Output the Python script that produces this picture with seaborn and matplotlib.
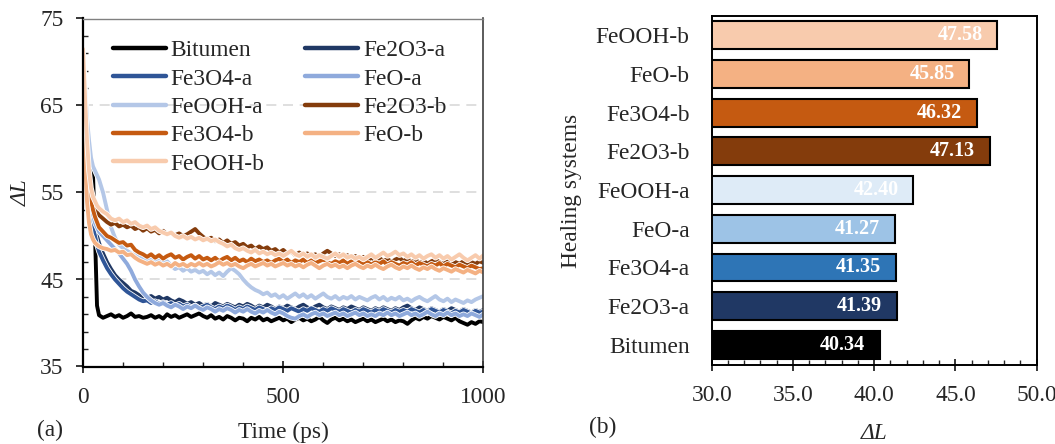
import numpy as np
import pandas as pd
import matplotlib
matplotlib.use("Agg")
import matplotlib.pyplot as plt
import matplotlib.patheffects as pe
from matplotlib.lines import Line2D
from matplotlib.ticker import FixedLocator, MultipleLocator
import seaborn as sns

# ---------------- data ----------------
SERIES = ["Bitumen", "Fe2O3-a", "Fe3O4-a", "FeO-a", "FeOOH-a",
          "Fe2O3-b", "Fe3O4-b", "FeO-b", "FeOOH-b"]
LINE_COLORS = ["#000000", "#203864", "#2F5597", "#8FAADC", "#B4C7E7",
               "#843C0C", "#C55A11", "#F4B183", "#F8CBAD"]

TIME_EARLY = [0, 5, 10, 15, 20, 25, 30, 35]
TIME_MAIN = list(range(40, 1001, 10))

bitumen = [65, 61, 59, 58.5, 58, 57, 50, 42,
    40.9, 40.6, 40.8, 41.0, 40.7, 40.9, 40.6, 40.8, 41.1, 40.7, 40.8, 40.6, 40.7, 40.9, 40.6, 40.8, 40.5,
    41.0, 40.7, 40.9, 40.6, 40.8, 41.0, 40.7, 40.9, 41.1, 40.8, 40.6, 40.9, 40.5, 40.7, 40.4, 40.8, 40.6,
    40.3, 40.6, 40.5, 40.2, 40.6, 40.4, 40.7, 40.3, 40.5, 40.2, 40.4, 40.6, 40.3, 40.5, 40.1, 40.4, 40.6,
    40.3, 40.5, 40.2, 40.4, 40.7, 40.3, 40.0, 40.4, 40.6, 40.3, 40.5, 40.2, 40.4, 40.1, 40.3, 40.5, 40.2,
    40.4, 40.1, 40.3, 40.5, 40.2, 40.4, 40.1, 40.3, 40.2, 39.9, 40.3, 40.6, 40.4, 40.7, 40.5, 40.8, 40.6,
    40.4, 40.7, 40.5, 40.3, 40.6, 40.2, 40.0, 39.8, 40.1, 39.9, 40.2, 40.1]
fe2o3_a = [66, 61, 57, 55, 53.5, 52, 51, 50,
    49.2, 48.0, 47.0, 46.2, 45.5, 45.0, 44.6, 44.2, 43.7, 43.5, 43.2, 43.0, 42.9, 43.1, 42.8, 43.0, 42.7,
    42.9, 42.6, 42.4, 42.7, 42.5, 42.2, 42.4, 42.1, 42.3, 42.0, 42.2, 41.9, 42.3, 42.1, 41.9, 42.2, 42.0,
    41.8, 42.1, 41.9, 42.2, 42.0, 41.7, 42.0, 41.8, 42.1, 41.9, 41.6, 41.9, 41.7, 42.0, 41.8, 41.6, 41.9,
    42.1, 41.8, 41.6, 41.9, 42.1, 41.8, 41.6, 41.9, 41.7, 41.5, 41.8, 41.6, 41.9, 41.7, 41.5, 41.8, 41.6,
    41.4, 41.7, 41.5, 41.8, 41.6, 41.4, 41.7, 41.5, 41.8, 42.0, 41.7, 41.5, 41.8, 41.6, 41.4, 41.7, 41.5,
    41.3, 41.6, 41.4, 41.7, 41.5, 41.3, 41.6, 41.4, 41.2, 41.5, 41.3, 41.5]
fe3o4_a = [67, 61, 56, 53.5, 52, 51, 50, 49,
    48.2, 47.2, 46.3, 45.6, 45.0, 44.5, 44.0, 43.6, 43.3, 43.0, 42.7, 42.5, 42.6, 42.3, 42.5, 42.2, 42.4,
    42.1, 42.3, 42.0, 42.2, 41.9, 42.1, 41.8, 42.0, 41.7, 41.9, 42.1, 41.8, 41.6, 41.9, 41.7, 42.0, 41.8,
    41.5, 41.8, 41.6, 41.9, 41.7, 41.5, 41.8, 41.6, 41.4, 41.7, 41.5, 41.8, 41.6, 41.4, 41.7, 41.5, 41.3,
    41.6, 41.4, 41.7, 41.5, 41.3, 41.6, 41.4, 41.7, 41.5, 41.3, 41.6, 41.4, 41.2, 41.5, 41.3, 41.6, 41.4,
    41.2, 41.5, 41.3, 41.6, 41.4, 41.2, 41.5, 41.3, 41.5, 41.3, 41.6, 41.4, 41.2, 41.5, 41.3, 41.6, 41.4,
    41.2, 41.5, 41.3, 41.1, 41.4, 41.2, 41.5, 41.3, 41.1, 41.4, 41.2, 41.3]
feo_a = [68, 63, 58, 55, 53.5, 52.5, 51.5, 51,
    50.5, 50.0, 49.5, 49.0, 48.5, 48.0, 47.4, 46.8, 46.0, 45.0, 44.2, 43.5, 43.0, 42.6, 42.3, 42.1, 42.3,
    42.0, 41.8, 42.1, 41.9, 41.6, 41.9, 41.7, 42.0, 41.7, 41.5, 41.8, 41.6, 41.3, 41.6, 41.4, 41.7, 41.5,
    41.2, 41.5, 41.3, 41.6, 41.3, 41.1, 41.4, 41.2, 41.5, 41.2, 41.0, 41.3, 41.1, 40.8, 40.6, 40.5, 40.8,
    41.0, 40.7, 41.0, 41.2, 40.9, 41.1, 40.8, 41.0, 41.2, 40.9, 41.1, 40.8, 41.0, 41.2, 40.9, 41.1, 40.8,
    41.0, 40.8, 41.1, 40.9, 41.2, 40.9, 41.1, 40.8, 41.0, 41.2, 40.9, 41.1, 40.8, 41.0, 41.3, 41.0, 40.8,
    41.1, 40.9, 41.2, 40.9, 41.1, 40.8, 41.0, 40.8, 41.1, 40.9, 40.7, 41.0]
feooh_a = [71, 67, 63.5, 61, 59, 58, 57.5, 57,
    56.5, 55.0, 53.0, 51.0, 49.8, 49.0, 48.6, 48.3, 48.0, 47.8, 47.5, 47.6, 47.2, 47.4, 47.0, 47.2, 46.9,
    47.1, 46.6, 46.2, 46.4, 46.0, 46.3, 45.9, 46.1, 45.8, 46.0, 45.6, 45.9, 45.5, 45.8, 45.4, 45.9, 46.3,
    46.0, 45.6, 45.0, 44.5, 44.1, 43.8, 43.6, 43.3, 43.5, 43.1, 43.3, 42.9, 43.2, 42.8, 43.1, 43.4, 43.0,
    43.3, 42.9, 43.2, 42.8, 43.1, 43.4, 43.0, 42.8, 43.1, 42.7, 43.0, 42.8, 43.1, 42.7, 43.0, 42.8, 42.6,
    42.9, 43.1, 42.7, 43.0, 42.6, 42.9, 42.7, 43.0, 42.6, 42.8, 42.5, 42.8, 43.0, 42.7, 42.5, 42.8, 43.1,
    42.7, 42.5, 42.8, 42.4, 42.7, 42.5, 42.3, 42.6, 42.4, 42.7, 42.9, 43.1]
fe2o3_b = [66, 61, 58, 56, 55, 54, 53.3, 52.8,
    52.4, 52.0, 51.6, 51.3, 51.5, 51.1, 51.3, 51.0, 51.2, 50.8, 51.0, 50.6, 50.9, 50.5, 50.7, 50.3, 50.6,
    50.2, 50.4, 50.1, 50.3, 50.0, 50.2, 50.5, 50.8, 50.3, 49.9, 49.6, 49.8, 49.4, 49.6, 49.2, 49.5, 49.1,
    49.3, 48.9, 49.1, 48.7, 48.9, 48.5, 48.8, 48.5, 48.7, 48.3, 48.5, 48.1, 48.4, 48.0, 48.2, 47.8, 48.1,
    47.8, 48.0, 47.7, 47.9, 47.6, 48.0, 48.3, 48.0, 47.7, 47.9, 47.5, 47.8, 47.4, 47.7, 47.3, 47.6, 47.2,
    47.5, 47.2, 47.5, 47.1, 47.4, 47.0, 47.3, 47.5, 47.1, 47.4, 47.0, 47.3, 46.9, 47.2, 46.8, 47.1, 47.3,
    47.0, 46.8, 47.1, 46.7, 47.0, 46.8, 47.1, 46.7, 47.0, 46.8, 47.1, 46.9]
fe3o4_b = [67, 62, 58, 55.5, 54, 53, 52.2, 51.6,
    51.0, 50.5, 50.0, 49.8, 49.5, 49.2, 49.3, 48.9, 49.0, 48.4, 48.1, 47.9, 47.6, 47.9, 47.5, 47.8, 47.4,
    47.7, 47.9, 47.5, 47.7, 47.3, 47.6, 47.8, 47.4, 47.7, 47.3, 47.5, 47.2, 47.5, 47.1, 47.4, 47.6, 47.2,
    47.5, 47.1, 47.3, 47.0, 47.4, 47.1, 47.3, 47.0, 47.2, 46.9, 47.2, 47.4, 47.0, 47.3, 46.9, 47.2, 47.0,
    47.3, 46.9, 47.2, 46.9, 47.1, 47.3, 47.0, 46.8, 47.1, 46.9, 47.2, 46.8, 47.1, 46.9, 47.2, 46.8, 47.0,
    46.7, 47.0, 46.8, 47.1, 46.7, 47.0, 46.8, 46.6, 46.9, 46.7, 47.0, 46.6, 46.9, 46.7, 46.5, 46.8, 46.6,
    46.9, 46.5, 46.8, 46.6, 46.4, 46.7, 46.5, 46.3, 46.6, 46.4, 46.2, 46.3]
feo_b = [66, 59, 54, 51.5, 50.2, 49.6, 49.2, 49.0,
    48.8, 48.6, 48.5, 48.3, 48.4, 48.1, 48.2, 47.8, 47.9, 47.5, 47.2, 47.0, 46.8, 47.0, 46.7, 46.9, 46.6,
    46.8, 46.5, 46.9, 46.6, 46.8, 46.5, 46.8, 46.6, 46.9, 46.6, 46.8, 46.5, 46.7, 47.0, 46.7, 46.9, 46.6,
    46.8, 46.5, 46.3, 46.6, 46.8, 46.5, 46.7, 46.9, 46.6, 46.8, 46.5, 46.7, 46.9, 46.6, 46.8, 46.5, 46.7,
    46.4, 46.7, 46.9, 46.6, 46.3, 46.6, 46.8, 46.5, 46.7, 46.4, 46.6, 46.3, 46.6, 46.8, 46.5, 46.3, 46.6,
    46.4, 46.7, 46.4, 46.2, 46.5, 46.7, 46.4, 46.2, 46.5, 46.3, 46.6, 46.3, 46.1, 46.4, 46.2, 46.5, 46.2,
    46.0, 46.3, 46.1, 45.9, 46.2, 46.0, 45.8, 46.1, 45.9, 45.7, 46.0, 45.8]
feooh_b = [71.5, 66, 61, 57.5, 55.5, 54.5, 54, 53.5,
    53.2, 52.8, 52.5, 52.0, 51.8, 52.0, 51.6, 51.8, 51.4, 51.6, 51.2, 51.0, 51.2, 50.8, 51.0, 50.6, 50.4,
    50.2, 50.4, 50.0, 49.8, 50.0, 49.7, 49.9, 49.6, 49.8, 49.5, 49.7, 49.4, 49.6, 49.3, 49.1, 48.8, 49.0,
    48.6, 48.4, 48.6, 48.3, 48.1, 48.4, 48.0, 48.2, 47.9, 48.1, 47.8, 48.0, 47.7, 48.0, 48.3, 47.9, 47.7,
    48.0, 47.6, 47.9, 47.5, 47.8, 47.6, 47.4, 47.7, 48.0, 47.6, 47.9, 47.5, 47.7, 47.4, 47.6, 47.3, 47.6,
    47.9, 47.5, 47.8, 48.1, 47.7, 47.9, 48.2, 47.8, 48.0, 47.6, 47.9, 47.5, 47.8, 47.4, 47.7, 47.9, 47.5,
    47.8, 47.4, 47.7, 47.3, 47.6, 47.9, 47.5, 47.2, 47.5, 47.8, 47.4, 47.8]

SERIES_VALUES = [bitumen, fe2o3_a, fe3o4_a, feo_a, feooh_a,
                 fe2o3_b, fe3o4_b, feo_b, feooh_b]

# bar chart (top to bottom)
BAR_CATS = ["FeOOH-b", "FeO-b", "Fe3O4-b", "Fe2O3-b", "FeOOH-a",
            "FeO-a", "Fe3O4-a", "Fe2O3-a", "Bitumen"]
BAR_VALS = [47.58, 45.85, 46.32, 47.13, 42.40, 41.27, 41.35, 41.39, 40.34]
BAR_COLORS = ["#F8CBAD", "#F4B183", "#C55A11", "#843C0C", "#DEEBF7",
              "#9DC3E6", "#2E75B6", "#203864", "#000000"]

# ---------------- style ----------------
sns.set_style("ticks")
plt.rcParams["font.family"] = ["Liberation Serif", "DejaVu Serif"]
FS = 16.8
plt.rcParams["font.size"] = FS

times = TIME_EARLY + TIME_MAIN
rows = []
for name, vals in zip(SERIES, SERIES_VALUES):
    assert len(vals) == len(times), (name, len(vals), len(times))
    for t, v in zip(times, vals):
        rows.append({"Time": t, "dL": v, "System": name})
df = pd.DataFrame(rows)

W, H = 1055, 444
fig = plt.figure(figsize=(W / 100, H / 100), dpi=100)

def axrect(x0, y0, x1, y1):
    return [x0 / W, 1 - y1 / H, (x1 - x0) / W, (y1 - y0) / H]

ax1 = fig.add_axes(axrect(83, 18.5, 483.5, 366.5))
ax2 = fig.add_axes(axrect(711.7, 16, 1036.7, 365))

# ---------------- panel (a) ----------------
for y in [45, 55, 65]:
    ax1.axhline(y, color="#D9D9D9", lw=1.2, ls=(0, (6, 4)), zorder=0)
n_grid = len(ax1.get_lines())

sns.lineplot(data=df, x="Time", y="dL", hue="System", hue_order=SERIES,
             palette=dict(zip(SERIES, LINE_COLORS)), linewidth=2.8,
             estimator=None, sort=False, legend=False, ax=ax1)
for ln in ax1.get_lines()[n_grid:]:
    ln.set_path_effects([pe.Stroke(linewidth=4.0, foreground="white"), pe.Normal()])

ax1.set_xlim(0, 1000)
ax1.set_ylim(35, 75)
ax1.set_yticks([35, 45, 55, 65, 75])
ax1.set_xticks([0, 500, 1000])
ax1.yaxis.set_minor_locator(FixedLocator(np.arange(35, 76, 2)))
ax1.xaxis.set_minor_locator(MultipleLocator(100))
ax1.tick_params(axis="y", which="major", direction="out", length=5, width=1.3, pad=9, labelsize=FS)
ax1.tick_params(axis="y", which="minor", direction="in", length=3.5, width=1.0)
ax1.tick_params(axis="x", which="major", direction="inout", length=9, width=1.3, pad=10, labelsize=FS)
ax1.tick_params(axis="x", which="minor", direction="in", length=3.5, width=1.0)
for s in ["left", "bottom"]:
    ax1.spines[s].set_linewidth(1.6)
    ax1.spines[s].set_color("black")
ax1.spines["right"].set_linewidth(1.2)
ax1.spines["right"].set_color("#404040")
ax1.spines["top"].set_linewidth(1.0)
ax1.spines["top"].set_color("#808080")
ax1.set_xlabel("Time (ps)", fontsize=FS, labelpad=10)
ax1.set_ylabel("ΔL", fontsize=FS, style="italic", labelpad=6)

handles = [Line2D([0], [0], color=c, lw=3.2) for c in LINE_COLORS]
order = [0, 2, 4, 6, 8, 1, 3, 5, 7]
leg = ax1.legend([handles[i] for i in order], [SERIES[i] for i in order],
                 ncol=2, frameon=False, loc="upper left",
                 bbox_to_anchor=(113 / W, 1 - 40 / H), bbox_transform=fig.transFigure,
                 borderpad=0, borderaxespad=0, handlelength=2.27, handletextpad=0.2,
                 columnspacing=1.75, labelspacing=0.3, fontsize=FS)

# ---------------- panel (b) ----------------
sns.barplot(x=BAR_VALS, y=BAR_CATS, hue=BAR_CATS, palette=BAR_COLORS, legend=False,
            orient="h", width=0.72, edgecolor="black", linewidth=1.5,
            saturation=1, ax=ax2)
for i, v in enumerate(BAR_VALS):
    ax2.text(v - 2.3, i, f"{v:.2f}", color="white", fontsize=14.5, fontweight="bold",
             ha="center", va="center")
ax2.set_xlim(30, 50)
ax2.set_ylim(8.52, -0.5)
ax2.set_xticks([30, 35, 40, 45, 50])
ax2.set_xticklabels([f"{v:.1f}" for v in [30, 35, 40, 45, 50]])
ax2.xaxis.set_minor_locator(MultipleLocator(1))
ax2.tick_params(axis="x", which="major", direction="inout", length=9, width=1.3, pad=10, labelsize=FS)
ax2.tick_params(axis="x", which="minor", direction="in", length=3.5, width=1.0)
ax2.tick_params(axis="y", length=0, pad=16, labelsize=FS)
for s in ax2.spines.values():
    s.set_linewidth(1.4)
    s.set_color("black")
ax2.set_xlabel("ΔL", fontsize=FS, style="italic", labelpad=12)
ax2.set_ylabel("Healing systems", fontsize=FS, labelpad=10)

fig.text(50 / W, 1 - 430 / H, "(a)", fontsize=FS, ha="center", va="center")
fig.text(603 / W, 1 - 427 / H, "(b)", fontsize=FS, ha="center", va="center")

fig.savefig("out.png", dpi=100)
